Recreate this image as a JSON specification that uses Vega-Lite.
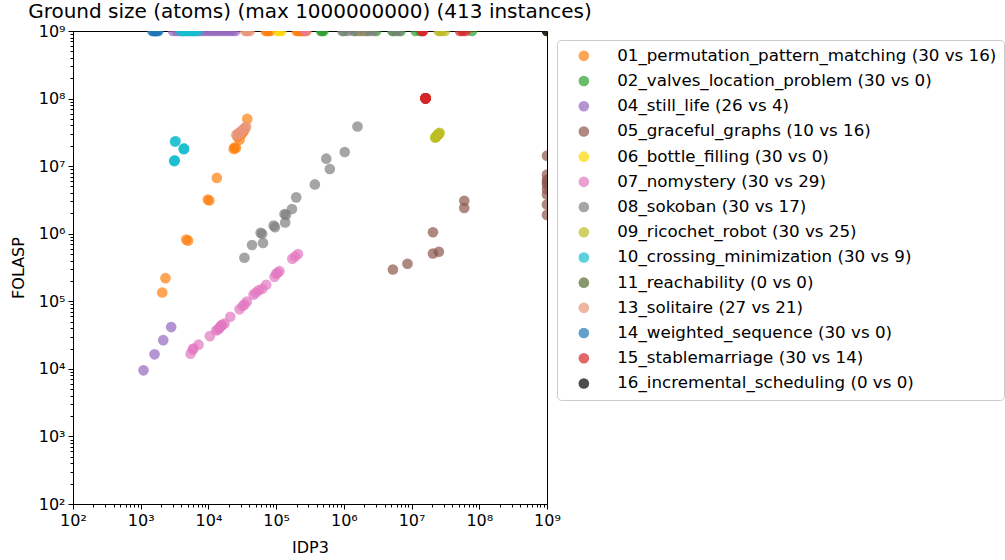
{
  "$schema": "https://vega.github.io/schema/vega-lite/v6.json",
  "width": 474,
  "height": 473,
  "autosize": {"type": "none"},
  "padding": {"left": 73, "top": 31, "right": 458, "bottom": 56},
  "background": "white",
  "title": {"text": "Ground size (atoms) (max 1000000000) (413 instances)", "fontSize": 20, "font": "DejaVu Sans", "fontWeight": "normal", "anchor": "middle", "offset": 1, "color": "black"},
  "config": {
    "view": {"stroke": "black", "strokeWidth": 1},
    "font": "DejaVu Sans",
    "axis": {"labelFont": "DejaVu Sans", "titleFont": "DejaVu Sans", "labelColor": "black", "titleColor": "black", "tickColor": "black", "domainColor": "black", "grid": false, "labelFontSize": 16, "titleFontSize": 16, "titleFontWeight": "normal", "labelOverlap": false, "labelFlush": false, "labelPadding": 3, "tickWidth": 1, "domainWidth": 1},
    "legend": {"labelFont": "DejaVu Sans"}
  },
  "datasets": {
    "names": [
      {"c": "01", "p": "01_permutation_pattern_matching (30 vs 16)"},
      {"c": "02", "p": "02_valves_location_problem (30 vs 0)"},
      {"c": "04", "p": "04_still_life (26 vs 4)"},
      {"c": "05", "p": "05_graceful_graphs (10 vs 16)"},
      {"c": "06", "p": "06_bottle_filling (30 vs 0)"},
      {"c": "07", "p": "07_nomystery (30 vs 29)"},
      {"c": "08", "p": "08_sokoban (30 vs 17)"},
      {"c": "09", "p": "09_ricochet_robot (30 vs 25)"},
      {"c": "10", "p": "10_crossing_minimization (30 vs 9)"},
      {"c": "11", "p": "11_reachability (0 vs 0)"},
      {"c": "13", "p": "13_solitaire (27 vs 21)"},
      {"c": "14", "p": "14_weighted_sequence (30 vs 0)"},
      {"c": "15", "p": "15_stablemarriage (30 vs 14)"},
      {"c": "16", "p": "16_incremental_scheduling (0 vs 0)"}
    ],
    "pts": [
      {"c": "01", "x": 37400, "y": 5.0e7},
      {"c": "01", "x": 24300, "y": 1.89e7},
      {"c": "01", "x": 25500, "y": 1.85e7},
      {"c": "01", "x": 23600, "y": 1.8e7},
      {"c": "01", "x": 28900, "y": 2.45e7},
      {"c": "01", "x": 13300, "y": 6.7e6},
      {"c": "01", "x": 9800, "y": 3.2e6},
      {"c": "01", "x": 10300, "y": 3.1e6},
      {"c": "01", "x": 4700, "y": 8.2e5},
      {"c": "01", "x": 5000, "y": 7.9e5},
      {"c": "01", "x": 2320, "y": 2.2e5},
      {"c": "01", "x": 2080, "y": 1.35e5},
      {"c": "01", "x": 31000, "y": 3.0e7},
      {"c": "01", "x": 34000, "y": 3.4e7},
      {"c": "01", "x": 27000, "y": 2.7e7},
      {"c": "01", "x": 32500, "y": 3.2e7},
      {"c": "01", "x": 70000, "y": 1e9},
      {"c": "01", "x": 74000, "y": 1e9},
      {"c": "01", "x": 78000, "y": 1e9},
      {"c": "01", "x": 82000, "y": 1e9},
      {"c": "01", "x": 200000, "y": 1e9},
      {"c": "01", "x": 210000, "y": 1e9},
      {"c": "01", "x": 220000, "y": 1e9},
      {"c": "01", "x": 235000, "y": 1e9},
      {"c": "01", "x": 250000, "y": 1e9},
      {"c": "01", "x": 265000, "y": 1e9},
      {"c": "01", "x": 280000, "y": 1e9},
      {"c": "01", "x": 240000, "y": 1e9},
      {"c": "02", "x": 460000, "y": 1e9},
      {"c": "02", "x": 480000, "y": 1e9},
      {"c": "02", "x": 500000, "y": 1e9},
      {"c": "02", "x": 1000000, "y": 1e9},
      {"c": "02", "x": 1500000, "y": 1e9},
      {"c": "02", "x": 2200000, "y": 1e9},
      {"c": "02", "x": 3000000, "y": 1e9},
      {"c": "02", "x": 5200000, "y": 1e9},
      {"c": "02", "x": 5800000, "y": 1e9},
      {"c": "02", "x": 6900000, "y": 1e9},
      {"c": "02", "x": 11500000, "y": 1e9},
      {"c": "02", "x": 13500000, "y": 1e9},
      {"c": "02", "x": 78000000, "y": 1e9},
      {"c": "04", "x": 1100, "y": 9500},
      {"c": "04", "x": 1600, "y": 16400},
      {"c": "04", "x": 2150, "y": 26600},
      {"c": "04", "x": 2820, "y": 41500},
      {"c": "04", "x": 3000, "y": 1e9},
      {"c": "04", "x": 3400, "y": 1e9},
      {"c": "04", "x": 3800, "y": 1e9},
      {"c": "04", "x": 4300, "y": 1e9},
      {"c": "04", "x": 4800, "y": 1e9},
      {"c": "04", "x": 5400, "y": 1e9},
      {"c": "04", "x": 6000, "y": 1e9},
      {"c": "04", "x": 6700, "y": 1e9},
      {"c": "04", "x": 7500, "y": 1e9},
      {"c": "04", "x": 8400, "y": 1e9},
      {"c": "04", "x": 9400, "y": 1e9},
      {"c": "04", "x": 10500, "y": 1e9},
      {"c": "04", "x": 11700, "y": 1e9},
      {"c": "04", "x": 13000, "y": 1e9},
      {"c": "04", "x": 14500, "y": 1e9},
      {"c": "04", "x": 16200, "y": 1e9},
      {"c": "04", "x": 18000, "y": 1e9},
      {"c": "04", "x": 20000, "y": 1e9},
      {"c": "04", "x": 22500, "y": 1e9},
      {"c": "04", "x": 25000, "y": 1e9},
      {"c": "05", "x": 5300000, "y": 295000},
      {"c": "05", "x": 8700000, "y": 360000},
      {"c": "05", "x": 20700000, "y": 1050000},
      {"c": "05", "x": 20700000, "y": 510000},
      {"c": "05", "x": 25300000, "y": 540000},
      {"c": "05", "x": 60000000, "y": 3080000},
      {"c": "05", "x": 60000000, "y": 2400000},
      {"c": "05", "x": 1e9, "y": 14300000},
      {"c": "05", "x": 1e9, "y": 7500000},
      {"c": "05", "x": 1e9, "y": 6300000},
      {"c": "05", "x": 1e9, "y": 5300000},
      {"c": "05", "x": 1e9, "y": 4500000},
      {"c": "05", "x": 1e9, "y": 3800000},
      {"c": "05", "x": 1e9, "y": 2700000},
      {"c": "05", "x": 1e9, "y": 1900000},
      {"c": "05", "x": 1e9, "y": 5800000},
      {"c": "06", "x": 105000, "y": 1e9},
      {"c": "06", "x": 112000, "y": 1e9},
      {"c": "06", "x": 120000, "y": 1e9},
      {"c": "06", "x": 1750000, "y": 1e9},
      {"c": "06", "x": 1850000, "y": 1e9},
      {"c": "07", "x": 5450, "y": 16700},
      {"c": "07", "x": 5890, "y": 19400},
      {"c": "07", "x": 7140, "y": 22800},
      {"c": "07", "x": 10500, "y": 30500},
      {"c": "07", "x": 13800, "y": 38300},
      {"c": "07", "x": 15500, "y": 44000},
      {"c": "07", "x": 17300, "y": 47000},
      {"c": "07", "x": 21000, "y": 59000},
      {"c": "07", "x": 28800, "y": 76000},
      {"c": "07", "x": 34100, "y": 90000},
      {"c": "07", "x": 36900, "y": 99000},
      {"c": "07", "x": 46300, "y": 125000},
      {"c": "07", "x": 49600, "y": 134000},
      {"c": "07", "x": 62300, "y": 153000},
      {"c": "07", "x": 71400, "y": 175000},
      {"c": "07", "x": 94700, "y": 230000},
      {"c": "07", "x": 100000, "y": 255000},
      {"c": "07", "x": 112000, "y": 279000},
      {"c": "07", "x": 173000, "y": 425000},
      {"c": "07", "x": 210000, "y": 500000},
      {"c": "07", "x": 14500, "y": 40000},
      {"c": "07", "x": 16000, "y": 45000},
      {"c": "07", "x": 15000, "y": 42000},
      {"c": "07", "x": 6000, "y": 20000},
      {"c": "07", "x": 32000, "y": 85000},
      {"c": "07", "x": 55000, "y": 145000},
      {"c": "07", "x": 105000, "y": 265000},
      {"c": "07", "x": 190000, "y": 460000},
      {"c": "07", "x": 13000, "y": 37000},
      {"c": "07", "x": 270000, "y": 1e9},
      {"c": "08", "x": 1590000, "y": 38600000},
      {"c": "08", "x": 1030000, "y": 16200000},
      {"c": "08", "x": 550000, "y": 12900000},
      {"c": "08", "x": 620000, "y": 9060000},
      {"c": "08", "x": 373000, "y": 5370000},
      {"c": "08", "x": 198000, "y": 3450000},
      {"c": "08", "x": 171000, "y": 2320000},
      {"c": "08", "x": 133000, "y": 1960000},
      {"c": "08", "x": 136000, "y": 1470000},
      {"c": "08", "x": 92000, "y": 1320000},
      {"c": "08", "x": 96000, "y": 1250000},
      {"c": "08", "x": 59000, "y": 1030000},
      {"c": "08", "x": 62000, "y": 1000000},
      {"c": "08", "x": 64000, "y": 730000},
      {"c": "08", "x": 44000, "y": 680000},
      {"c": "08", "x": 34000, "y": 440000},
      {"c": "08", "x": 140000, "y": 1900000},
      {"c": "08", "x": 950000, "y": 1e9},
      {"c": "08", "x": 1150000, "y": 1e9},
      {"c": "08", "x": 1400000, "y": 1e9},
      {"c": "08", "x": 1700000, "y": 1e9},
      {"c": "08", "x": 2000000, "y": 1e9},
      {"c": "08", "x": 2400000, "y": 1e9},
      {"c": "08", "x": 2750000, "y": 1e9},
      {"c": "08", "x": 5400000, "y": 1e9},
      {"c": "08", "x": 6500000, "y": 1e9},
      {"c": "09", "x": 22200000, "y": 26300000},
      {"c": "09", "x": 22600000, "y": 26800000},
      {"c": "09", "x": 23000000, "y": 27300000},
      {"c": "09", "x": 23400000, "y": 27800000},
      {"c": "09", "x": 23800000, "y": 28400000},
      {"c": "09", "x": 24200000, "y": 28900000},
      {"c": "09", "x": 24600000, "y": 29400000},
      {"c": "09", "x": 25000000, "y": 30000000},
      {"c": "09", "x": 25500000, "y": 30500000},
      {"c": "09", "x": 26000000, "y": 31100000},
      {"c": "09", "x": 24000000, "y": 28600000},
      {"c": "09", "x": 25000000, "y": 1e9},
      {"c": "09", "x": 28000000, "y": 1e9},
      {"c": "09", "x": 31000000, "y": 1e9},
      {"c": "09", "x": 26500000, "y": 1e9},
      {"c": "10", "x": 3200, "y": 23000000},
      {"c": "10", "x": 3280, "y": 23500000},
      {"c": "10", "x": 4300, "y": 18000000},
      {"c": "10", "x": 4380, "y": 18300000},
      {"c": "10", "x": 4340, "y": 17800000},
      {"c": "10", "x": 3150, "y": 12000000},
      {"c": "10", "x": 3120, "y": 11800000},
      {"c": "10", "x": 3180, "y": 12200000},
      {"c": "10", "x": 3900, "y": 1e9},
      {"c": "10", "x": 4300, "y": 1e9},
      {"c": "10", "x": 4700, "y": 1e9},
      {"c": "10", "x": 5200, "y": 1e9},
      {"c": "10", "x": 5700, "y": 1e9},
      {"c": "10", "x": 6300, "y": 1e9},
      {"c": "10", "x": 7000, "y": 1e9},
      {"c": "10", "x": 4100, "y": 1e9},
      {"c": "10", "x": 5000, "y": 1e9},
      {"c": "10", "x": 6000, "y": 1e9},
      {"c": "11", "x": 1e9, "y": 1e9},
      {"c": "13", "x": 25700, "y": 29000000},
      {"c": "13", "x": 27000, "y": 30000000},
      {"c": "13", "x": 28300, "y": 31000000},
      {"c": "13", "x": 29600, "y": 32000000},
      {"c": "13", "x": 31000, "y": 33200000},
      {"c": "13", "x": 32400, "y": 34500000},
      {"c": "13", "x": 33800, "y": 35800000},
      {"c": "13", "x": 35000, "y": 37000000},
      {"c": "13", "x": 36100, "y": 38600000},
      {"c": "13", "x": 30000, "y": 31500000},
      {"c": "13", "x": 28000, "y": 29500000},
      {"c": "13", "x": 33000, "y": 35500000},
      {"c": "13", "x": 35000, "y": 1e9},
      {"c": "13", "x": 38000, "y": 1e9},
      {"c": "13", "x": 41000, "y": 1e9},
      {"c": "13", "x": 37000, "y": 1e9},
      {"c": "14", "x": 1480, "y": 1e9},
      {"c": "14", "x": 1550, "y": 1e9},
      {"c": "14", "x": 1620, "y": 1e9},
      {"c": "14", "x": 1700, "y": 1e9},
      {"c": "14", "x": 1780, "y": 1e9},
      {"c": "14", "x": 1820, "y": 1e9},
      {"c": "14", "x": 1600, "y": 1e9},
      {"c": "14", "x": 1650, "y": 1e9},
      {"c": "15", "x": 16100000, "y": 101000000},
      {"c": "15", "x": 16100000, "y": 101000000},
      {"c": "15", "x": 16100000, "y": 101000000},
      {"c": "15", "x": 16100000, "y": 101000000},
      {"c": "15", "x": 16100000, "y": 101000000},
      {"c": "15", "x": 16100000, "y": 101000000},
      {"c": "15", "x": 16100000, "y": 101000000},
      {"c": "15", "x": 16100000, "y": 101000000},
      {"c": "15", "x": 16100000, "y": 101000000},
      {"c": "15", "x": 16100000, "y": 101000000},
      {"c": "15", "x": 14200000, "y": 1e9},
      {"c": "15", "x": 14800000, "y": 1e9},
      {"c": "15", "x": 14500000, "y": 1e9},
      {"c": "15", "x": 52000000, "y": 1e9},
      {"c": "15", "x": 57000000, "y": 1e9},
      {"c": "15", "x": 63000000, "y": 1e9},
      {"c": "16", "x": 1e9, "y": 1e9}
    ]
  },
  "data": {"name": "pts"},
  "transform": [
    {"lookup": "c", "from": {"data": {"name": "names"}, "key": "c", "fields": ["p"]}}
  ],
  "mark": {"type": "circle", "size": 113, "opacity": 0.7, "clip": true},
  "encoding": {
    "x": {
      "field": "x", "type": "quantitative",
      "scale": {"type": "log", "domain": [100, 1e9], "nice": false},
      "axis": {
        "title": "IDP3", "titlePadding": 11,
        "values": [100,200,300,400,500,600,700,800,900,1e3,2e3,3e3,4e3,5e3,6e3,7e3,8e3,9e3,1e4,2e4,3e4,4e4,5e4,6e4,7e4,8e4,9e4,1e5,2e5,3e5,4e5,5e5,6e5,7e5,8e5,9e5,1e6,2e6,3e6,4e6,5e6,6e6,7e6,8e6,9e6,1e7,2e7,3e7,4e7,5e7,6e7,7e7,8e7,9e7,1e8,2e8,3e8,4e8,5e8,6e8,7e8,8e8,9e8,1e9],
        "labelExpr": "abs(log(datum.value)/LN10 - round(log(datum.value)/LN10)) < 0.001 ? '10' + ['⁰','¹','²','³','⁴','⁵','⁶','⁷','⁸','⁹'][round(log(datum.value)/LN10)] : ''",
        "tickSize": {"condition": {"test": "abs(log(datum.value)/LN10 - round(log(datum.value)/LN10)) < 0.001", "value": 5}, "value": 3}
      }
    },
    "y": {
      "field": "y", "type": "quantitative",
      "scale": {"type": "log", "domain": [100, 1e9], "nice": false},
      "axis": {
        "title": "FOLASP", "titlePadding": 12,
        "values": [100,200,300,400,500,600,700,800,900,1e3,2e3,3e3,4e3,5e3,6e3,7e3,8e3,9e3,1e4,2e4,3e4,4e4,5e4,6e4,7e4,8e4,9e4,1e5,2e5,3e5,4e5,5e5,6e5,7e5,8e5,9e5,1e6,2e6,3e6,4e6,5e6,6e6,7e6,8e6,9e6,1e7,2e7,3e7,4e7,5e7,6e7,7e7,8e7,9e7,1e8,2e8,3e8,4e8,5e8,6e8,7e8,8e8,9e8,1e9],
        "labelExpr": "abs(log(datum.value)/LN10 - round(log(datum.value)/LN10)) < 0.001 ? '10' + ['⁰','¹','²','³','⁴','⁵','⁶','⁷','⁸','⁹'][round(log(datum.value)/LN10)] : ''",
        "tickSize": {"condition": {"test": "abs(log(datum.value)/LN10 - round(log(datum.value)/LN10)) < 0.001", "value": 5}, "value": 3}
      }
    },
    "color": {
      "field": "p", "type": "nominal",
      "scale": {
        "domain": ["01_permutation_pattern_matching (30 vs 16)", "02_valves_location_problem (30 vs 0)", "04_still_life (26 vs 4)", "05_graceful_graphs (10 vs 16)", "06_bottle_filling (30 vs 0)", "07_nomystery (30 vs 29)", "08_sokoban (30 vs 17)", "09_ricochet_robot (30 vs 25)", "10_crossing_minimization (30 vs 9)", "11_reachability (0 vs 0)", "13_solitaire (27 vs 21)", "14_weighted_sequence (30 vs 0)", "15_stablemarriage (30 vs 14)", "16_incremental_scheduling (0 vs 0)"],
        "range": ["#ff7f0e", "#2ca02c", "#9467bd", "#8c564b", "#ffd700", "#e377c2", "#7f7f7f", "#bcbd22", "#17becf", "#556b2f", "#e9967a", "#1f77b4", "#d62728", "#000000"]
      },
      "legend": {
        "title": null,
        "orient": "none",
        "legendX": 484,
        "legendY": 9,
        "symbolType": "circle",
        "symbolSize": 113,
        "symbolOpacity": 0.7,
        "symbolStrokeWidth": 0,
        "symbolOffset": 11,
        "labelOffset": 25,
        "labelFontSize": 16.7,
        "labelColor": "black",
        "labelLimit": 600,
        "rowPadding": 7.2,
        "padding": 7.5,
        "strokeColor": "#cccccc",
        "fillColor": "white",
        "cornerRadius": 4
      }
    }
  }
}
